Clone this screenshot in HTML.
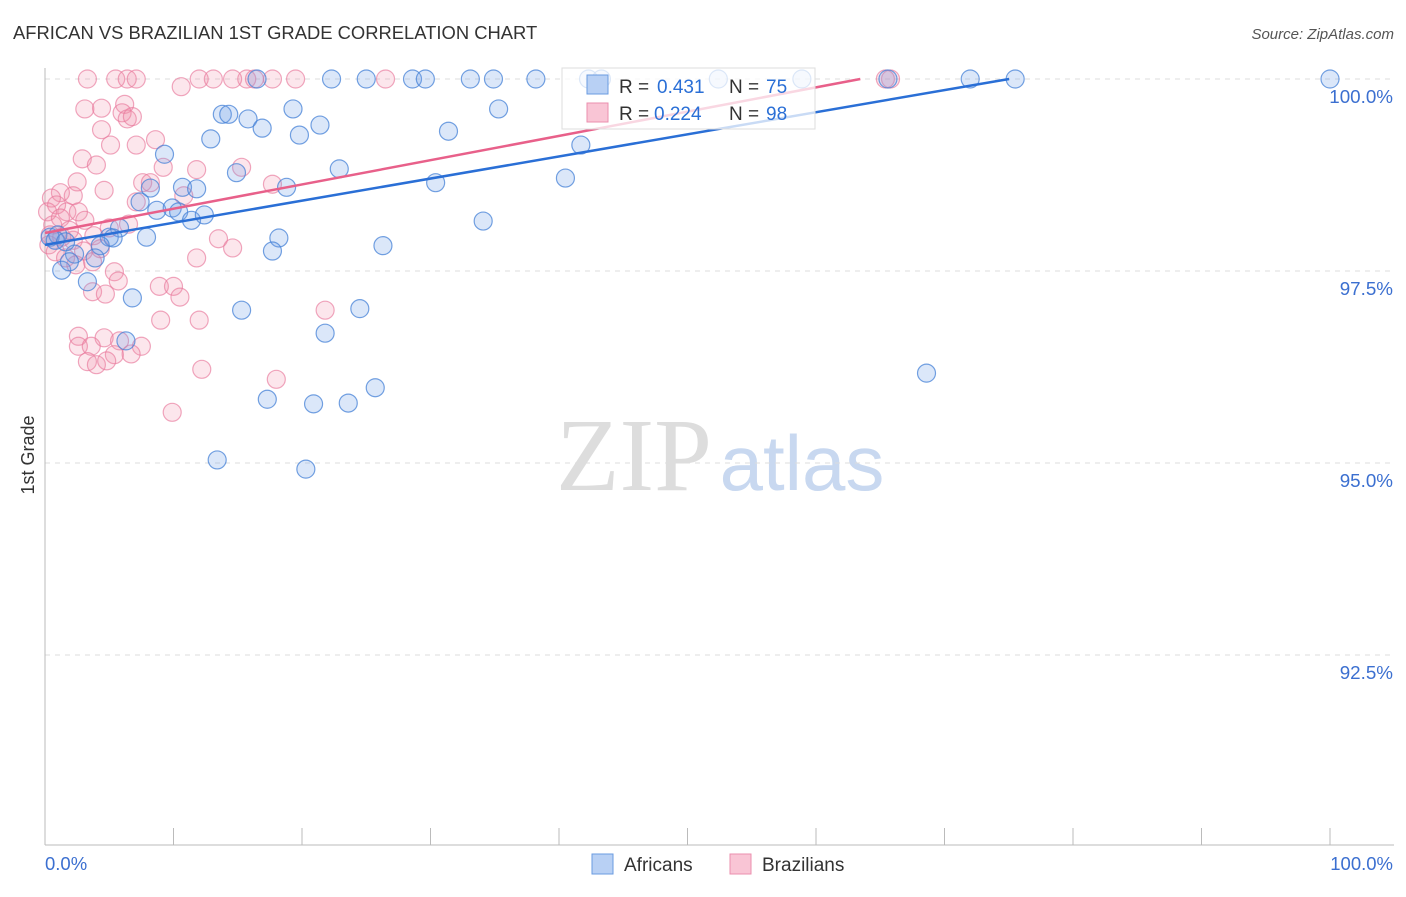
<!DOCTYPE html>
<html><head><meta charset="utf-8"><style>
body{margin:0;background:#fff;font-family:"Liberation Sans",sans-serif}
</style></head><body>
<svg id="chart" width="1406" height="892" xmlns="http://www.w3.org/2000/svg" font-family="Liberation Sans, sans-serif">
<text x="13" y="39" font-size="18.4" fill="#333">AFRICAN VS BRAZILIAN 1ST GRADE CORRELATION CHART</text>
<text x="1394" y="39" font-size="15" fill="#555" font-style="italic" text-anchor="end">Source: ZipAtlas.com</text>
<text x="34" y="455" font-size="18" fill="#333" transform="rotate(-90 34 455)" text-anchor="middle">1st Grade</text>
<g>
<text x="634" y="490" font-size="104" fill="#ddd" font-family="Liberation Serif, serif" text-anchor="middle">ZIP</text>
<text x="802" y="490" font-size="78" fill="#c8d8f0" text-anchor="middle">atlas</text>
</g>
<g id="grid"></g><g id="axes"></g><g id="pts"></g><g id="lines"></g>
<g>
<rect x="562" y="68" width="253" height="61" fill="rgba(255,255,255,0.75)" stroke="#ddd"/>
<rect x="587" y="75" width="21" height="19" fill="#b8d0f4" stroke="#6a9be0"/>
<rect x="587" y="103" width="21" height="19" fill="#f9c5d5" stroke="#eb8fae"/>
<text y="93" font-size="19" fill="#333"><tspan x="619">R =</tspan><tspan x="657" fill="#2a6fd6">0.431</tspan><tspan x="729">N =</tspan><tspan x="766" fill="#2a6fd6">75</tspan></text>
<text y="120" font-size="19" fill="#333"><tspan x="619">R =</tspan><tspan x="654" fill="#2a6fd6">0.224</tspan><tspan x="729">N =</tspan><tspan x="766" fill="#2a6fd6">98</tspan></text>
</g>
<g>
<rect x="592" y="854" width="21" height="20" fill="#b8d0f4" stroke="#6a9be0"/>
<text x="624" y="871" font-size="19" fill="#333">Africans</text>
<rect x="730" y="854" width="21" height="20" fill="#f9c5d5" stroke="#eb8fae"/>
<text x="762" y="871" font-size="19" fill="#333">Brazilians</text>
</g>
</svg>
<script>
const blueX=[16.5,22.3,25.0,28.6,29.6,33.1,34.9,38.2,42.3,52.4,58.9,65.6,72.0,75.5,100,43.3,19.3,35.3,13.8,14.3,15.8,16.9,21.4,19.8,12.9,31.4,41.7,9.3,22.9,14.9,40.5,30.4,8.2,10.7,11.8,18.8,7.4,8.7,9.9,10.4,11.4,12.4,34.1,5.8,5.0,5.3,7.9,18.2,0.4,1.0,4.3,26.3,17.7,2.3,3.9,1.3,3.3,6.8,15.3,24.5,21.8,6.3,68.6,25.7,17.3,20.9,23.6,13.4,20.3,0.8,1.6,1.9];
const blueY=[100,100,100,100,100,100,100,100,100,100,100,100,100,100,100,100,99.61,99.61,99.54,99.54,99.48,99.36,99.40,99.27,99.22,99.32,99.14,99.02,98.83,98.78,98.71,98.65,98.58,98.59,98.57,98.59,98.40,98.29,98.32,98.27,98.16,98.23,98.15,98.06,97.94,97.93,97.94,97.93,97.94,97.97,97.83,97.83,97.76,97.72,97.67,97.51,97.36,97.15,96.99,97.01,96.69,96.59,96.17,95.98,95.83,95.77,95.78,95.04,94.92,97.90,97.88,97.62];
const pinkX=[3.3,5.5,6.4,7.1,12.0,15.7,17.7,19.5,26.5,14.6,13.1,16.3,65.8,65.4,10.6,3.1,4.4,6.2,6.0,6.4,6.8,4.4,8.6,5.1,7.1,2.9,4.0,9.2,11.8,15.3,2.5,7.6,8.2,17.7,4.6,10.8,1.2,0.5,2.2,0.9,0.2,1.7,2.6,3.1,6.5,7.1,5.0,3.8,2.2,1.3,0.3,0.8,3.0,4.3,13.5,14.6,11.8,3.7,5.4,5.7,3.7,4.7,8.9,10.0,10.5,9.0,12.0,21.8,2.6,4.6,5.8,7.5,2.6,3.6,6.7,5.4,3.3,4.0,4.8,12.2,18.0,9.9,0.6,1.2,1.9,0.4,1.6,2.4];
const pinkY=[100,100,100,100,100,100,100,100,100,100,100,100,100,100,99.90,99.61,99.62,99.67,99.56,99.48,99.51,99.34,99.21,99.14,99.14,98.96,98.88,98.85,98.82,98.85,98.66,98.65,98.65,98.63,98.55,98.48,98.52,98.45,98.48,98.36,98.27,98.27,98.27,98.16,98.11,98.40,98.06,97.96,97.90,97.94,97.84,97.75,97.76,97.79,97.92,97.80,97.67,97.62,97.49,97.37,97.23,97.20,97.30,97.30,97.16,96.86,96.86,96.99,96.65,96.63,96.59,96.52,96.52,96.52,96.42,96.41,96.32,96.28,96.33,96.22,96.09,95.66,98.10,98.19,98.03,97.97,97.67,97.58];
const blueTrend=[97.84,0.02879];
const pinkTrend=[97.995,0.0316];
const yTicks=[100,97.5,95,92.5];
const yTickLabels=["100.0%","97.5%","95.0%","92.5%"];
const xTicks=[0,10,20,30,40,50,60,70,80,90,100];
const NS="http://www.w3.org/2000/svg";
const sx=v=>45+v*12.85;
const sy=v=>79+(100-v)*76.8;
function mk(tag,attrs,parent){const e=document.createElementNS(NS,tag);for(const k in attrs)e.setAttribute(k,attrs[k]);parent.appendChild(e);return e;}
const grid=document.getElementById('grid'),axes=document.getElementById('axes'),pts=document.getElementById('pts'),lines=document.getElementById('lines');
yTicks.forEach((t,i)=>{
 const l=mk('line',{x1:45,x2:1394,y1:sy(t),y2:sy(t),stroke:'#ddd','stroke-dasharray':'5,5'},grid);
 
 
 const tx=mk('text',{x:1393,y:sy(t)+24,'font-size':18.8,fill:'#3b6fd0','text-anchor':'end'},axes);
 tx.textContent=yTickLabels[i];
 
 
});
const ya=mk('line',{x1:45,x2:45,y1:68,y2:845,stroke:'#bbb'},axes);


const xa=mk('line',{x1:45,x2:1394,y1:845,y2:845,stroke:'#bbb'},axes);


xTicks.forEach(t=>{
 const l=mk('line',{x1:sx(t),x2:sx(t),y1:828,y2:845,stroke:'#bbb'},axes);
 
 
});
const x0=mk('text',{x:45,y:870,'font-size':18.5,fill:'#3b6fd0'},axes);x0.textContent="0.0%";


const x1=mk('text',{x:1393,y:870,'font-size':18.5,fill:'#3b6fd0','text-anchor':'end'},axes);x1.textContent="100.0%";


function dots(X,Y,fill,stroke,name){X.forEach((x,i)=>{
 const c=mk('circle',{cx:sx(x),cy:sy(Y[i]),r:9,fill:fill,stroke:stroke,'stroke-width':1.2},pts);
 
 
});}
dots(pinkX,pinkY,'rgba(240,140,170,0.22)','rgba(232,120,155,0.65)','brazilian-point');
dots(blueX,blueY,'rgba(110,160,230,0.25)','rgba(70,130,215,0.75)','african-point');
function trend(tr,color,name){
 const xe=Math.min(100,(100-tr[0])/tr[1]);
 const l=mk('line',{x1:sx(0),y1:sy(tr[0]),x2:sx(xe),y2:sy(tr[0]+tr[1]*xe),stroke:color,'stroke-width':2.5},lines);
 
 
}
trend(pinkTrend,'#e8608a','brazilian-trend-line');
trend(blueTrend,'#2a6fd6','african-trend-line');
</script>
</body></html>
